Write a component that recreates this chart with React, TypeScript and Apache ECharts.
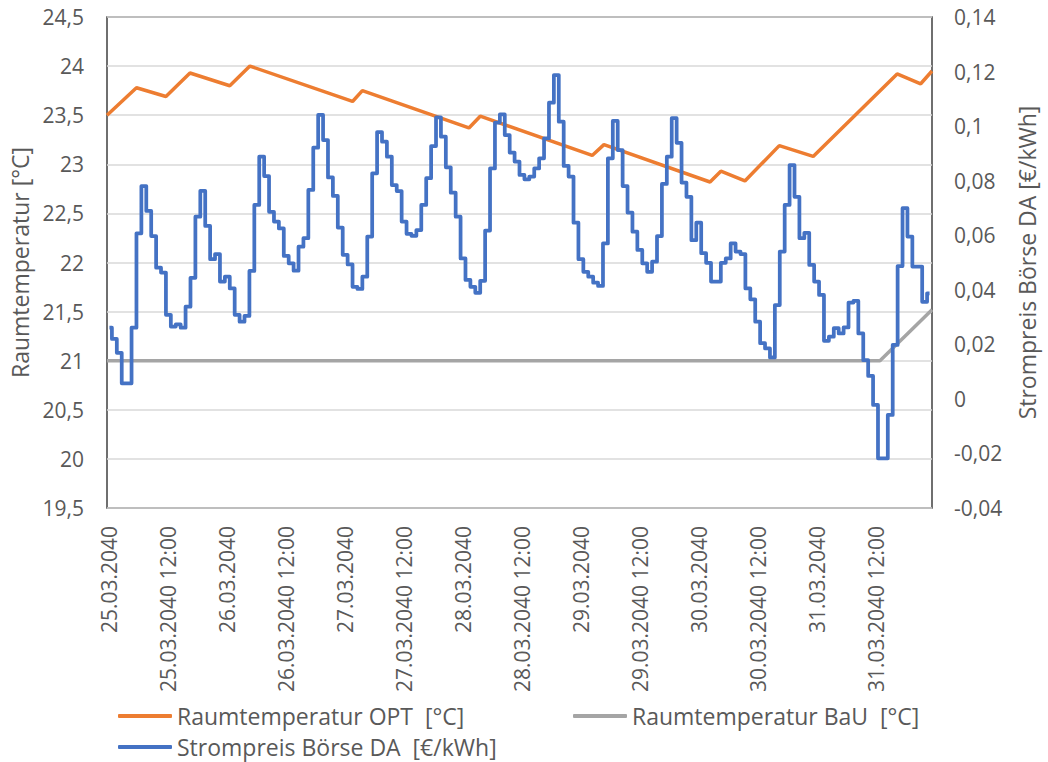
import React, { useEffect, useRef } from "react";
import * as echarts from "echarts";

const DAYS = ["25.03.2040", "26.03.2040", "27.03.2040", "28.03.2040", "29.03.2040", "30.03.2040", "31.03.2040"];
const CATEGORIES: string[] = DAYS.flatMap((d) =>
  Array.from({ length: 24 }, (_, h) => (h === 0 ? d : `${d} ${String(h).padStart(2, "0")}:00`))
);

// Raumtemperatur OPT: knick points [hour, °C]
const OPT_POINTS: [number, number][] = [
  [-0.5, 23.5], [5.5, 23.78], [11.5, 23.69], [16.4, 23.93], [24.5, 23.8], [28.6, 24.0],
  [49.5, 23.64], [51.5, 23.75], [73.2, 23.37], [75.5, 23.49], [98.3, 23.09], [100.7, 23.2],
  [122.3, 22.82], [124.5, 22.93], [129.4, 22.83], [136.4, 23.19], [143.3, 23.08],
  [160.4, 23.92], [165.2, 23.82], [167.5, 23.95],
];

// Raumtemperatur BaU: knick points [hour, °C]
const BAU_POINTS: [number, number][] = [
  [-0.5, 21.0], [156.9, 21.0], [167.5, 21.52],
];

// Strompreis Börse DA, hourly [€/kWh]
const PRICE: number[] = [
  0.0261, 0.0220, 0.0169, 0.0057, 0.0057, 0.0261, 0.0607, 0.0780, 0.0689, 0.0597,
  0.0481, 0.0463, 0.0308, 0.0265, 0.0273, 0.0261, 0.0338, 0.0444, 0.0668, 0.0763,
  0.0634, 0.0512, 0.0531, 0.0430, 0.0448, 0.0405, 0.0308, 0.0283, 0.0304, 0.0469,
  0.0711, 0.0888, 0.0817, 0.0686, 0.0650, 0.0625, 0.0524, 0.0497, 0.0470, 0.0558,
  0.0589, 0.0766, 0.0921, 0.1041, 0.0949, 0.0812, 0.0744, 0.0628, 0.0528, 0.0493,
  0.0411, 0.0403, 0.0448, 0.0595, 0.0827, 0.0978,
  0.0943, 0.0888, 0.0784, 0.0762, 0.0650, 0.0605, 0.0598, 0.0619, 0.0711, 0.0809,
  0.0927, 0.1032, 0.0961, 0.0849, 0.0756, 0.0668, 0.0515, 0.0436, 0.0411, 0.0389,
  0.0433, 0.0617, 0.0845, 0.1013, 0.1043, 0.0967, 0.0903, 0.0870, 0.0821, 0.0805,
  0.0815, 0.0845, 0.0882, 0.0955, 0.1086, 0.1187, 0.1016, 0.0854, 0.0815, 0.0646,
  0.0512, 0.0466, 0.0448, 0.0426, 0.0414, 0.0570, 0.0882, 0.1019, 0.0912, 0.0780,
  0.0683, 0.0613, 0.0546, 0.0497,
  0.0466, 0.0503, 0.0597, 0.0788, 0.0888, 0.1029, 0.0939, 0.0793, 0.0741, 0.0582,
  0.0646, 0.0534, 0.0499, 0.0430, 0.0430, 0.0499, 0.0515, 0.0570, 0.0540, 0.0531,
  0.0405, 0.0365, 0.0283, 0.0204, 0.0185, 0.0152, 0.0344, 0.0540, 0.0711, 0.0857,
  0.0741, 0.0589, 0.0609, 0.0491, 0.0430, 0.0381, 0.0213, 0.0228, 0.0259, 0.0240,
  0.0262, 0.0353, 0.0359, 0.0240, 0.0142, 0.0084, -0.0022, -0.0218, -0.0218, -0.0059,
  0.0198, 0.0487, 0.0699, 0.0595, 0.0485, 0.0485, 0.0356, 0.0387,
];

const NAME_OPT = "Raumtemperatur OPT  [°C]";
const NAME_BAU = "Raumtemperatur BaU  [°C]";
const NAME_PRICE = "Strompreis Börse DA  [€/kWh]";

const TEXT = "#595959";
const FONT = "Open Sans";

const fmt = (v: number) => String(Math.round(v * 1000) / 1000).replace(".", ",");

export default function App() {
  const ref = useRef<HTMLDivElement>(null);
  useEffect(() => {
    if (!ref.current) return;
    const chart = echarts.init(ref.current, undefined, { renderer: "svg" });
    const legendCommon = {
      icon: "roundRect",
      itemWidth: 54,
      itemHeight: 4,
      padding: 0,
      textStyle: { fontSize: 23, color: TEXT, fontFamily: FONT, lineHeight: 26 },
      selectedMode: false,
    };
    chart.setOption({
      animation: false,
      backgroundColor: "#ffffff",
      textStyle: { fontFamily: FONT },
      grid: {
        left: 107,
        right: 116,
        top: 17,
        bottom: 254,
        show: true,
        borderColor: "#404040",
        borderWidth: 1.5,
        backgroundColor: "transparent",
        containLabel: false,
        outerBoundsMode: "none",
      },
      xAxis: [
        {
          type: "category",
          data: CATEGORIES,
          boundaryGap: true,
          axisLine: { show: false },
          axisTick: { show: false },
          splitLine: { show: false },
          axisLabel: { interval: 11, rotate: 90, margin: 18, fontSize: 21, color: TEXT, fontFamily: FONT },
        },
        { type: "value", min: -0.5, max: 167.5, show: false },
      ],
      yAxis: [
        {
          type: "value",
          min: 19.5,
          max: 24.5,
          interval: 0.5,
          name: "Raumtemperatur [°C]",
          nameLocation: "middle",
          nameRotate: 90,
          nameGap: 71,
          nameTextStyle: { fontSize: 23, color: TEXT, fontFamily: FONT },
          axisLine: { show: false },
          axisTick: { show: false },
          axisLabel: { fontSize: 21, color: TEXT, margin: 23, fontFamily: FONT, formatter: fmt },
          splitLine: { show: true, lineStyle: { color: "#D9D9D9", width: 1.5 } },
        },
        {
          type: "value",
          min: -0.04,
          max: 0.14,
          interval: 0.02,
          position: "right",
          name: "Strompreis Börse DA [€/kWh]",
          nameLocation: "middle",
          nameRotate: 90,
          nameGap: 83,
          nameTextStyle: { fontSize: 23, color: TEXT, fontFamily: FONT },
          axisLine: { show: false },
          axisTick: { show: false },
          axisLabel: { fontSize: 21, color: TEXT, margin: 22, fontFamily: FONT, formatter: fmt },
          splitLine: { show: false },
        },
      ],
      legend: [
        { ...legendCommon, data: [NAME_OPT], left: 118, top: 703 },
        { ...legendCommon, data: [NAME_BAU], left: 573, top: 703 },
        { ...legendCommon, data: [NAME_PRICE], left: 118, top: 734 },
      ],
      series: [
        {
          name: NAME_OPT,
          type: "line",
          xAxisIndex: 1,
          yAxisIndex: 0,
          data: OPT_POINTS,
          symbol: "none",
          lineStyle: { color: "#ED7D31", width: 3.5 },
          itemStyle: { color: "#ED7D31" },
          z: 2,
        },
        {
          name: NAME_BAU,
          type: "line",
          xAxisIndex: 1,
          yAxisIndex: 0,
          data: BAU_POINTS,
          symbol: "none",
          lineStyle: { color: "#A5A5A5", width: 3.5 },
          itemStyle: { color: "#A5A5A5" },
          z: 3,
        },
        {
          name: NAME_PRICE,
          type: "line",
          xAxisIndex: 0,
          yAxisIndex: 1,
          data: PRICE,
          step: "middle",
          symbol: "none",
          lineStyle: { color: "#4472C4", width: 3.75, join: "round" },
          itemStyle: { color: "#4472C4" },
          z: 4,
        },
      ],
    });
    return () => chart.dispose();
  }, []);
  return (
    <div
      ref={ref}
      style={{ position: "fixed", left: 0, top: 0, width: 1048, height: 762, background: "#fff" }}
    />
  );
}
